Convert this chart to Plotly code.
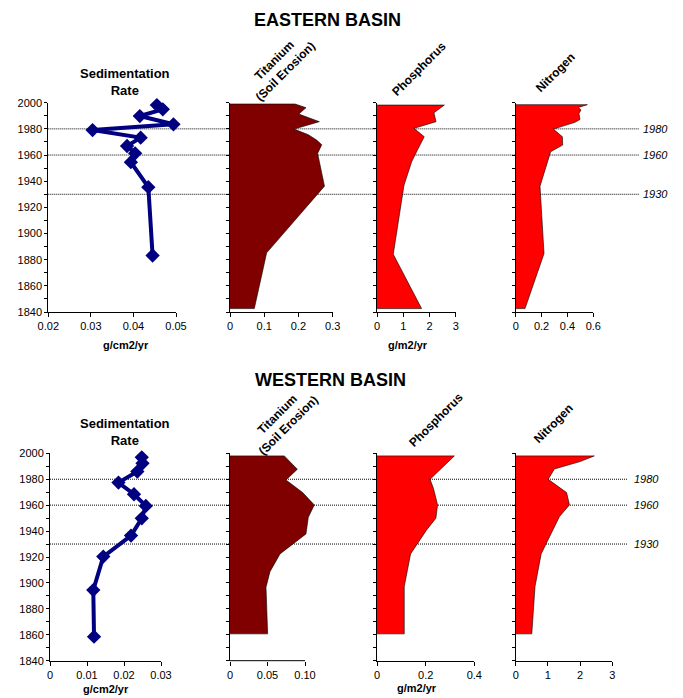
import plotly.graph_objects as go

# ---------------- DATA ----------------
# Eastern basin
e_sed_years = [1998.2, 1994.9, 1989.8, 1983.5, 1979.1, 1973.3, 1966.9, 1961.3, 1954.5, 1935.4, 1883.2]
e_sed_vals = [0.0455, 0.0469, 0.0415, 0.0494, 0.0304, 0.0417, 0.0385, 0.0404, 0.0394, 0.0435, 0.0445]

e_ti_years = [1999.0, 1996.2, 1991.3, 1985.5, 1979.8, 1975.5, 1971.4, 1967.9, 1961.2, 1936.2, 1885.2, 1842.6]
e_ti_vals = [0.190, 0.222, 0.201, 0.261, 0.187, 0.229, 0.253, 0.268, 0.256, 0.276, 0.107, 0.071]

e_p_years = [1998.2, 1992.3, 1985.5, 1980.4, 1974.0, 1963.8, 1954.8, 1937.0, 1884.2, 1842.6]
e_p_vals = [2.57, 2.17, 2.25, 1.41, 1.80, 1.54, 1.32, 1.03, 0.62, 1.70]

e_n_years = [1998.5, 1996.4, 1994.4, 1991.8, 1987.2, 1985.0, 1979.8, 1974.0, 1967.6, 1962.5, 1936.2, 1884.7, 1842.6]
e_n_vals = [0.554, 0.484, 0.505, 0.489, 0.497, 0.458, 0.291, 0.361, 0.363, 0.270, 0.188, 0.219, 0.072]

# Western basin
w_sed_years = [1996.9, 1992.3, 1985.9, 1977.4, 1968.4, 1959.4, 1949.8, 1936.5, 1920.3, 1894.5, 1858.5]
w_sed_vals = [0.0248, 0.0250, 0.0236, 0.0185, 0.0227, 0.0259, 0.0248, 0.0219, 0.0144, 0.0117, 0.0119]

w_ti_years = [1998.0, 1987.7, 1979.4, 1969.7, 1960.2, 1950.6, 1937.8, 1922.4, 1908.7, 1896.6, 1860.7]
w_ti_vals = [0.0724, 0.0898, 0.0747, 0.0969, 0.1124, 0.1044, 0.1013, 0.0667, 0.0533, 0.0480, 0.0502]

w_p_years = [1998.0, 1979.9, 1973.0, 1960.2, 1949.9, 1940.9, 1922.4, 1897.2, 1860.7]
w_p_vals = [0.318, 0.218, 0.232, 0.249, 0.242, 0.204, 0.138, 0.112, 0.112]

w_n_years = [1998.0, 1993.6, 1987.9, 1979.9, 1969.7, 1960.2, 1951.2, 1922.4, 1897.2, 1860.7]
w_n_vals = [2.44, 2.00, 1.20, 1.01, 1.58, 1.67, 1.36, 0.79, 0.60, 0.50]

marker_years = [1980, 1960, 1930]
year_ticks = list(range(1840, 2001, 10))

# ---------------- LAYOUT HELPERS ----------------
W, H = 683, 698
FONT = "Liberation Sans, Arial, sans-serif"
NAVY = "#000080"
DARKRED = "#800000"
RED = "#FF0000"


def px(x):
    return x / W


def py(y):
    return 1 - y / H


fig = go.Figure()

top_dom = [py(312.0), py(102.7)]
bot_dom = [py(660.7), py(453.3)]

panels = [
    (1, 48.3, 176.0, [0.02, 0.05], [0.02, 0.03, 0.04, 0.05], ["0.02", "0.03", "0.04", "0.05"], top_dom),
    (2, 230.0, 332.7, [0, 0.3], [0, 0.1, 0.2, 0.3], ["0", "0.1", "0.2", "0.3"], top_dom),
    (3, 377.0, 455.7, [0, 3], [0, 1, 2, 3], ["0", "1", "2", "3"], top_dom),
    (4, 515.7, 593.3, [0, 0.6], [0, 0.2, 0.4, 0.6], ["0", "0.2", "0.4", "0.6"], top_dom),
    (5, 50.0, 161.0, [0, 0.03], [0, 0.01, 0.02, 0.03], ["0", "0.01", "0.02", "0.03"], bot_dom),
    (6, 230.0, 230.0 + 0.115 * 750, [0, 0.115], [0, 0.05, 0.10], ["0", "0.05", "0.10"], bot_dom),
    (7, 377.0, 474.3, [0, 0.4], [0, 0.2, 0.4], ["0", "0.2", "0.4"], bot_dom),
    (8, 515.7, 612.3, [0, 3], [0, 1, 2, 3], ["0", "1", "2", "3"], bot_dom),
]

layout = dict(
    width=W, height=H,
    margin=dict(l=0, r=0, t=0, b=0, pad=0, autoexpand=False),
    paper_bgcolor="white",
    plot_bgcolor="rgba(0,0,0,0)",
    showlegend=False,
    font=dict(family=FONT, size=11, color="black"),
)

for idx, xl, xr, rng, tv, tt, dom in panels:
    s = "" if idx == 1 else str(idx)
    layout["xaxis" + s] = dict(
        domain=[px(xl), px(xr)], range=rng, anchor="y" + s,
        showgrid=False, zeroline=False, automargin=False,
        showline=(idx != 6), linecolor="black", linewidth=1,
        ticks="outside", ticklen=4, tickcolor="black", tickwidth=1,
        tickvals=tv, ticktext=tt, tickfont=dict(size=11, family=FONT),
        fixedrange=True,
    )
    is_sed = idx in (1, 5)
    layout["yaxis" + s] = dict(
        domain=dom, range=[1840, 2000], anchor="x" + s,
        showgrid=False, zeroline=False, automargin=False,
        showline=True, linecolor="black", linewidth=1,
        ticks="outside", ticklen=3, tickcolor="black", tickwidth=1,
        tickvals=year_ticks,
        ticktext=[str(v) if v % 20 == 0 else "" for v in year_ticks],
        showticklabels=is_sed, tickfont=dict(size=11, family=FONT),
        fixedrange=True,
    )


# ---------------- TRACES ----------------
def sed_trace(vals, years, s):
    return go.Scatter(
        x=vals, y=years, xaxis="x" + s, yaxis="y" + s, mode="lines+markers",
        line=dict(color=NAVY, width=4),
        marker=dict(symbol="diamond", size=11, color=NAVY),
        cliponaxis=False, hoverinfo="skip",
    )


def fill_trace(vals, years, s, color):
    return go.Scatter(
        x=[0] + list(vals) + [0], y=[years[0]] + list(years) + [years[-1]],
        xaxis="x" + s, yaxis="y" + s, mode="lines", fill="toself",
        fillcolor=color, line=dict(color="black", width=0.6), hoverinfo="skip",
    )


fig.add_trace(sed_trace(e_sed_vals, e_sed_years, ""))
fig.add_trace(fill_trace(e_ti_vals, e_ti_years, "2", DARKRED))
fig.add_trace(fill_trace(e_p_vals, e_p_years, "3", RED))
fig.add_trace(fill_trace(e_n_vals, e_n_years, "4", RED))
fig.add_trace(sed_trace(w_sed_vals, w_sed_years, "5"))
fig.add_trace(fill_trace(w_ti_vals, w_ti_years, "6", DARKRED))
fig.add_trace(fill_trace(w_p_vals, w_p_years, "7", RED))
fig.add_trace(fill_trace(w_n_vals, w_n_years, "8", RED))

# ---------------- SHAPES ----------------
DOTS = "1px,1px"
shapes = []
for yv in marker_years:
    shapes.append(dict(type="line", xref="paper", yref="y", x0=px(48.3), x1=px(639), y0=yv, y1=yv,
                       line=dict(color="black", width=1, dash=DOTS), layer="below"))
    shapes.append(dict(type="line", xref="paper", yref="y5", x0=px(50), x1=px(628), y0=yv, y1=yv,
                       line=dict(color="black", width=1, dash=DOTS), layer="below"))
# x-axis line for western titanium panel (axis stops at 0.10)
shapes.append(dict(type="line", xref="x6", yref="paper", x0=0, x1=0.10, y0=bot_dom[0], y1=bot_dom[0],
                   line=dict(color="black", width=1), layer="above"))
layout["shapes"] = shapes

# ---------------- ANNOTATIONS ----------------
ann = []


def text(x, y, t, size=11, bold=False, angle=0, italic=False):
    s = t
    if bold:
        s = "<b>" + s + "</b>"
    if italic:
        s = "<i>" + s + "</i>"
    ann.append(dict(x=px(x), y=py(y), xref="paper", yref="paper", text=s, showarrow=False,
                    xanchor="center", yanchor="middle", textangle=angle,
                    font=dict(size=size, family=FONT, color="black")))


text(327, 20, "EASTERN BASIN", size=18, bold=True)
text(330, 380, "WESTERN BASIN", size=18, bold=True)

# column titles
text(125, 82, "Sedimentation<br>Rate", size=13, bold=True)
text(125, 432, "Sedimentation<br>Rate", size=13, bold=True)
text(280, 66, "Titanium<br>(Soil Erosion)", size=12, bold=True, angle=-45)
text(283, 420, "Titanium<br>(Soil Erosion)", size=12, bold=True, angle=-45)
text(419, 69, "Phosphorus", size=12, bold=True, angle=-45)
text(436, 420, "Phosphorus", size=12, bold=True, angle=-45)
text(555, 73, "Nitrogen", size=12, bold=True, angle=-45)
text(553, 424, "Nitrogen", size=12, bold=True, angle=-45)

# axis units
text(126, 345, "g/cm2/yr", size=11, bold=True)
text(408, 345, "g/m2/yr", size=11, bold=True)
text(106, 689, "g/cm2/yr", size=11, bold=True)
text(417, 688, "g/m2/yr", size=11, bold=True)

# year labels
for yv in marker_years:
    ann.append(dict(x=px(655.5), y=yv, xref="paper", yref="y", text="<i>%d</i>" % yv,
                    showarrow=False, xanchor="center", yanchor="middle",
                    font=dict(size=11, family=FONT, color="black")))
    ann.append(dict(x=px(646), y=yv, xref="paper", yref="y5", text="<i>%d</i>" % yv,
                    showarrow=False, xanchor="center", yanchor="middle",
                    font=dict(size=11, family=FONT, color="black")))

layout["annotations"] = ann
fig.update_layout(**layout)
fig.write_html(
    "out.html",
    config={"displayModeBar": False, "staticPlot": True},
    post_script="document.body.style.margin='0px';document.body.style.overflow='hidden';",
)
